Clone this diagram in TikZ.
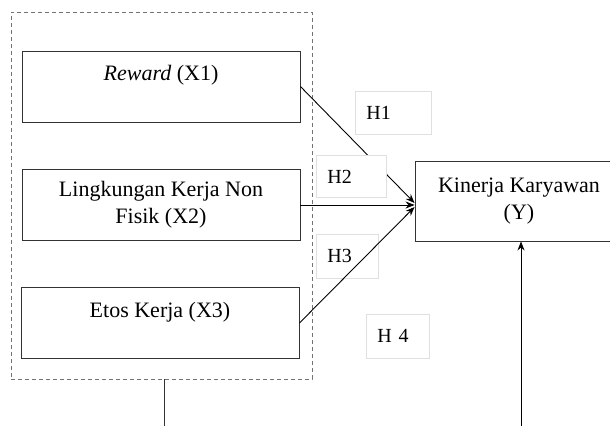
\documentclass[tikz,border=0pt]{standalone}
\usepackage{fontspec}
\setmainfont{Liberation Serif}
\usetikzlibrary{arrows.meta}

\begin{document}
\begin{tikzpicture}[
    x=1pt, y=-1pt,
    varbox/.style={
        rectangle,
        draw=black!80,
        line width=0.9pt,
        minimum width=278pt,
        minimum height=71pt,
        align=center,
        font=\fontsize{22}{27}\selectfont
    },
    hyp/.style={
        rectangle,
        draw=black!12,
        fill=white,
        line width=0.8pt,
        anchor=north west,
        inner xsep=11pt,
        align=left,
        font=\fontsize{20}{24}\selectfont
    },
    group/.style={
        rectangle,
        draw=black!55,
        dash pattern=on 4pt off 3pt,
        line width=0.9pt
    },
    arrow/.style={-{Stealth[length=9pt,width=7pt]}, black, line width=0.9pt}
]
\useasboundingbox (0,0) rectangle (610,426);

% independent variables inside the dashed group
\node[group, minimum width=301pt, minimum height=367pt] (grp) at (161.5,195.5) {};
\node[varbox] (x1) at (161,86.5) {\textit{Reward} (X1)\\ \mbox{}};
\node[varbox] (x2) at (161,205) {Lingkungan Kerja Non\\Fisik (X2)};
\node[varbox] (x3) at (160,323) {Etos Kerja (X3)\\ \mbox{}};

% dependent variable, runs past the right margin
\node[varbox, minimum width=208pt, minimum height=80pt] (kin) at (519,201) {Kinerja Karyawan\\(Y)};

% hypothesis labels
\node[hyp, text width=54pt, minimum height=43pt] (h1) at (355,91) {H1};
\node[hyp, text width=40pt, minimum height=44pt] (h3) at (316,234) {H3};
\node[hyp, text width=41pt, minimum height=44pt] (h4) at (366,314) {H 4};

\draw[arrow] (x1.east) -- ([yshift=2pt]x2.east -| kin.west);
\draw[arrow] (x2.east) -- (x2.east -| kin.west);
\draw[arrow] (x3.east) -- ([yshift=-2pt]x2.east -| kin.west);

% H2 sits on top of the H1 line
\node[hyp, text width=48pt, minimum height=42pt] (h2) at (316,155) {H2};

% simultaneous path (H4)
\coordinate (grpout) at (164,426);
\coordinate (kinin) at (521,426);
\draw[line width=0.9pt, black!80] (grpout |- grp.south) -- (grpout);
\draw[arrow] (kinin) -- (kinin |- kin.south);

\end{tikzpicture}
\end{document}
